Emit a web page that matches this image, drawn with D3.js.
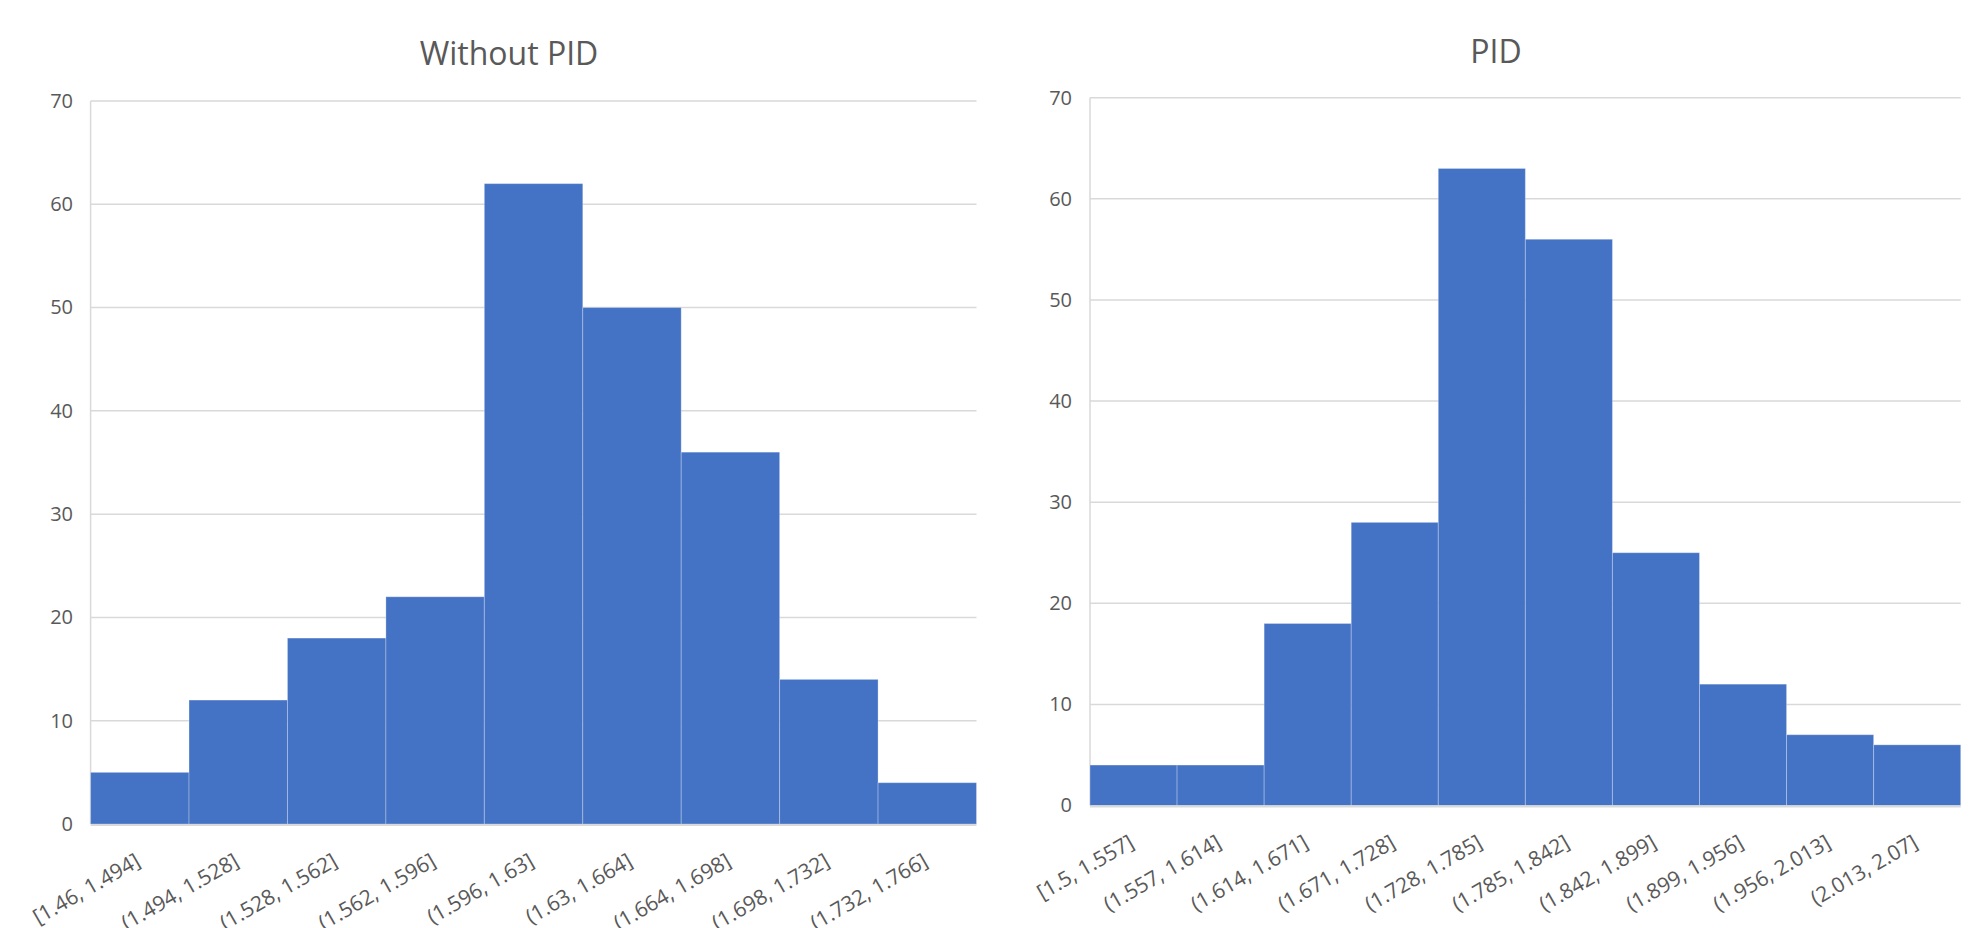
<!DOCTYPE html>
<html>
<head>
<meta charset="utf-8">
<script src="https://cdn.jsdelivr.net/npm/d3@7"></script>
<style>
  html, body { margin: 0; padding: 0; background: #ffffff; }
  svg { display: block; }
</style>
</head>
<body>
<svg id="chart" width="1973" height="928"></svg>
<script>
// ---- data ----
const leftTitle = "Without PID";
const leftCategories = ["[1.46, 1.494]", "(1.494, 1.528]", "(1.528, 1.562]", "(1.562, 1.596]", "(1.596, 1.63]", "(1.63, 1.664]", "(1.664, 1.698]", "(1.698, 1.732]", "(1.732, 1.766]"];
const leftValues = [5, 12, 18, 22, 62, 50, 36, 14, 4];

const rightTitle = "PID";
const rightCategories = ["[1.5, 1.557]", "(1.557, 1.614]", "(1.614, 1.671]", "(1.671, 1.728]", "(1.728, 1.785]", "(1.785, 1.842]", "(1.842, 1.899]", "(1.899, 1.956]", "(1.956, 2.013]", "(2.013, 2.07]"];
const rightValues = [4, 4, 18, 28, 63, 56, 25, 12, 7, 6];

const yTicks = [0, 10, 20, 30, 40, 50, 60, 70];

// ---- layout ----
const FONT = "'Open Sans', 'Noto Sans', sans-serif";
const TEXT = "#595959";
const GRID = "#d9d9d9";
const BAR = "#4472C4";

const svg = d3.select("#chart");

function drawHist(cfg, categories, values, title) {
  const g = svg.append("g");
  const x = d3.scaleBand().domain(categories).range([cfg.x0, cfg.x1]).padding(0);
  const y = d3.scaleLinear().domain([0, 70]).range([cfg.yb, cfg.yt]);

  // gridlines
  g.append("g").selectAll("line").data(yTicks.filter(t => t > 0)).join("line")
    .attr("x1", cfg.x0).attr("x2", cfg.x1)
    .attr("y1", d => y(d)).attr("y2", d => y(d))
    .attr("stroke", GRID).attr("stroke-width", 1.5);

  // left axis line
  g.append("line")
    .attr("x1", cfg.x0).attr("x2", cfg.x0)
    .attr("y1", y(70)).attr("y2", y(0))
    .attr("stroke", GRID).attr("stroke-width", 1.5);

  // bars
  g.append("g").selectAll("rect").data(values).join("rect")
    .attr("x", (d, i) => x(categories[i]))
    .attr("y", d => y(d))
    .attr("width", x.bandwidth())
    .attr("height", d => y(0) - y(d))
    .attr("fill", BAR)
    .attr("stroke", "rgba(255,255,255,0.28)")
    .attr("stroke-width", 1);

  // baseline
  g.append("line")
    .attr("x1", cfg.x0).attr("x2", cfg.x1)
    .attr("y1", y(0) + 1).attr("y2", y(0) + 1)
    .attr("stroke", GRID).attr("stroke-width", 2);

  // y tick labels
  const yAxis = d3.axisLeft(y).tickValues(yTicks).tickSize(0).tickPadding(cfg.x0 - cfg.ylabelRight);
  const ya = g.append("g").attr("transform", `translate(${cfg.x0},0)`).call(yAxis);
  ya.select(".domain").remove();
  ya.selectAll("text")
    .attr("fill", TEXT)
    .style("font-family", FONT)
    .style("font-size", "20px");

  // x tick labels (rotated)
  const xAxis = d3.axisBottom(x).tickSize(0).tickPadding(0);
  const xa = g.append("g").attr("transform", `translate(0,${y(0)})`).call(xAxis);
  xa.select(".domain").remove();
  xa.selectAll("text")
    .attr("fill", TEXT)
    .style("font-family", FONT)
    .style("font-size", "21px")
    .attr("text-anchor", "end")
    .attr("dy", null)
    .attr("y", 0)
    .attr("transform", `translate(2,41) rotate(-30)`);

  // title
  g.append("text")
    .attr("x", cfg.titleX).attr("y", cfg.titleY)
    .attr("text-anchor", "middle")
    .attr("fill", TEXT)
    .style("font-family", FONT)
    .style("font-size", "32px")
    .text(title);
}

drawHist({ x0: 90.6, x1: 976.5, yb: 824, yt: 101, ylabelRight: 73, titleX: 509, titleY: 65 },
  leftCategories, leftValues, leftTitle);
drawHist({ x0: 1090, x1: 1960.7, yb: 805.5, yt: 97.7, ylabelRight: 1072, titleX: 1496, titleY: 63 },
  rightCategories, rightValues, rightTitle);
</script>
</body>
</html>
